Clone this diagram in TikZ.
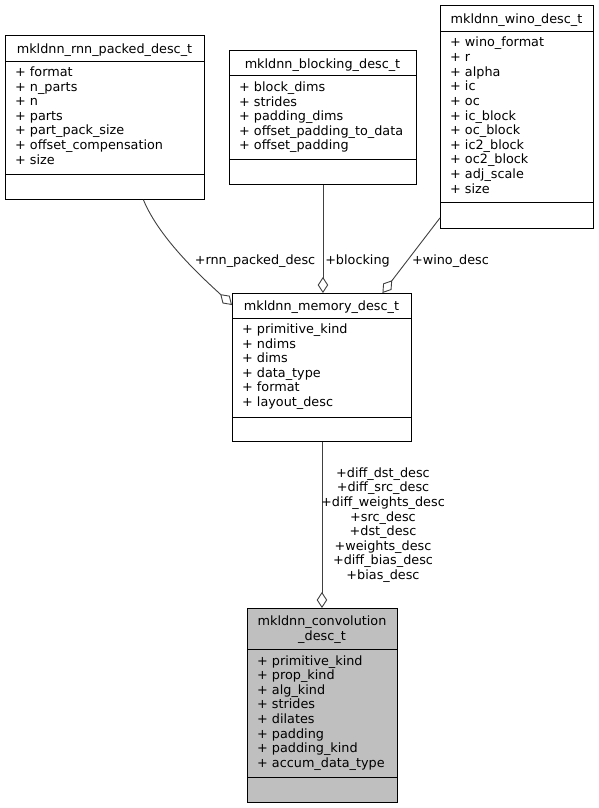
\documentclass[tikz,border=0pt]{standalone}
\usepackage{fontspec}
\setmainfont{DejaVu Sans}
\usetikzlibrary{arrows.meta}
\definecolor{edgec}{HTML}{404040}
\definecolor{convfill}{HTML}{BFBFBF}
\begin{document}
\begin{tikzpicture}[x=1pt,y=-1pt,
  box/.style={draw=black, line width=0.9pt, inner sep=0pt, anchor=north west},
  divider/.style={draw=black, line width=0.9pt},
  txt/.style={inner sep=0pt, anchor=base west, font=\fontsize{12.8}{14.6}\selectfont},
  ttl/.style={inner sep=0pt, anchor=base, font=\fontsize{12.8}{14.6}\selectfont},
  lbl/.style={inner sep=0pt, anchor=base, font=\fontsize{12.8}{14.6}\selectfont},
  edge/.style={draw=edgec, line width=0.9pt, -{Diamond[length=16pt,width=10.5pt,fill=white]}}
]
\useasboundingbox (0,0) rectangle (599,808);

% ---------- mkldnn_rnn_packed_desc_t ----------
\node[box, minimum width=199pt, minimum height=164pt] (rnn) at (5,35) {};
\node[ttl] (rnnT) at (104.5,53.5) {mkldnn\_rnn\_packed\_desc\_t};
\draw[divider] (5,61) -- (204,61);
\draw[divider] (5,174) -- (204,174);
\foreach \t [count=\i from 0] in {format, n\_parts, n, parts, part\_pack\_size, offset\_compensation, size}
  \node[txt] (rnnA\i) at (15,76.5+14.6*\i) {+ \t};

% ---------- mkldnn_blocking_desc_t ----------
\node[box, minimum width=187pt, minimum height=134pt] (blk) at (229,50) {};
\node[ttl] (blkT) at (322.5,68.5) {mkldnn\_blocking\_desc\_t};
\draw[divider] (229,75.5) -- (416,75.5);
\draw[divider] (229,159) -- (416,159);
\foreach \t [count=\i from 0] in {block\_dims, strides, padding\_dims, offset\_padding\_to\_data, offset\_padding}
  \node[txt] (blkA\i) at (239,91.5+14.6*\i) {+ \t};

% ---------- mkldnn_wino_desc_t ----------
\node[box, minimum width=153pt, minimum height=223pt] (wino) at (440,5) {};
\node[ttl] (winoT) at (516.5,23.5) {mkldnn\_wino\_desc\_t};
\draw[divider] (440,31.5) -- (593,31.5);
\draw[divider] (440,202) -- (593,202);
\foreach \t [count=\i from 0] in {wino\_format, r, alpha, ic, oc, ic\_block, oc\_block, ic2\_block, oc2\_block, adj\_scale, size}
  \node[txt] (winoA\i) at (450,47+14.6*\i) {+ \t};

% ---------- mkldnn_memory_desc_t ----------
\node[box, minimum width=179pt, minimum height=148pt] (mem) at (232,293) {};
\node[ttl] (memT) at (321.5,310.5) {mkldnn\_memory\_desc\_t};
\draw[divider] (232,318) -- (411,318);
\draw[divider] (232,417) -- (411,417);
\foreach \t [count=\i from 0] in {primitive\_kind, ndims, dims, data\_type, format, layout\_desc}
  \node[txt] (memA\i) at (242,333.5+14.6*\i) {+ \t};

% ---------- mkldnn_convolution_desc_t ----------
\node[box, fill=convfill, minimum width=150pt, minimum height=194pt] (conv) at (247,608) {};
\node[ttl] (convT1) at (322,625.5) {mkldnn\_convolution};
\node[ttl] (convT2) at (322,640) {\_desc\_t};
\draw[divider] (247,649) -- (397,649);
\draw[divider] (247,777) -- (397,777);
\foreach \t [count=\i from 0] in {primitive\_kind, prop\_kind, alg\_kind, strides, dilates, padding, padding\_kind, accum\_data\_type}
  \node[txt] (convA\i) at (257,665+14.6*\i) {+ \t};

% ---------- connectors ----------
\draw[edge] ([xshift=38.5pt]rnn.south) .. controls (160,240) and (205,280) .. ([yshift=-12pt]mem.north west);
\draw[edge] (blk.south) -- (blk.south |- mem.north);
\draw[edge] ([yshift=11pt]wino.south west) -- ([xshift=60.5pt]mem.north);
\draw[edge] (mem.south) -- (mem.south |- conv.north);

% ---------- connector labels ----------
\node[lbl] (lRnn) at (255,264) {+rnn\_packed\_desc};
\node[lbl] (lBlk) at (357.5,264) {+blocking};
\node[lbl] (lWino) at (450.5,264) {+wino\_desc};
\foreach \t [count=\i from 0] in {+diff\_dst\_desc, +diff\_src\_desc, +diff\_weights\_desc, +src\_desc, +dst\_desc, +weights\_desc, +diff\_bias\_desc, +bias\_desc}
  \node[lbl] (lConv\i) at (383,477.3+14.6*\i) {\t};
\end{tikzpicture}
\end{document}
